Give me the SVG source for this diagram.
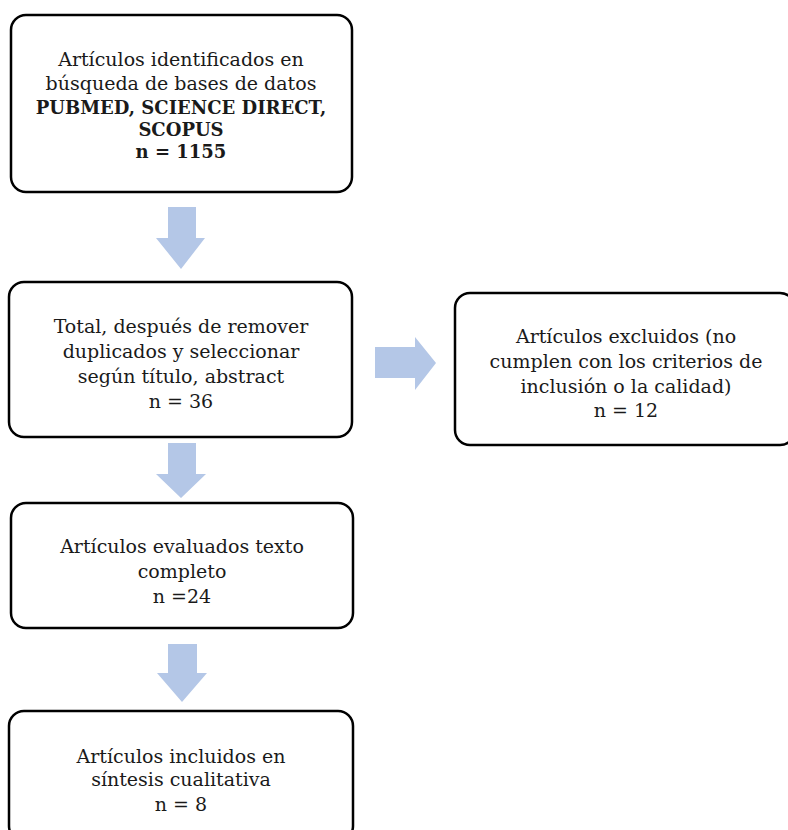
<svg xmlns="http://www.w3.org/2000/svg" width="788" height="830" viewBox="0 0 788 830">
<style>
.box{fill:#ffffff;stroke:#000000;stroke-width:2.5}
.t{font-family:"DejaVu Serif","Liberation Serif",serif;font-size:19px;fill:#1a1a1a;text-anchor:middle}
.b{font-weight:bold;font-size:18px}
.arr{fill:#b4c7e7}
</style>
<rect x="0" y="0" width="788" height="830" fill="#ffffff"/>
<g id="connectors">
<polygon class="arr" points="168,207 196,207 196,238 205,238 181,269 156,238 168,238"/>
<polygon class="arr" points="375,347 415,347 415,337 436,363 415,390 415,378 375,378"/>
<polygon class="arr" points="168,443 196,443 196,474 206,474 181,498 156,474 168,474"/>
<polygon class="arr" points="168,644 197,644 197,673 207,673 182,702 157,673 168,673"/>
</g>
<g id="n1">
<rect class="box" x="11" y="15" width="341" height="177" rx="15"/>
<text class="t" x="181" y="66">Artículos identificados en</text>
<text class="t" x="181" y="90">búsqueda de bases de datos</text>
<text class="t b" x="181" y="114">PUBMED, SCIENCE DIRECT,</text>
<text class="t b" x="181" y="136">SCOPUS</text>
<text class="t b" x="181" y="158">n = 1155</text>
</g>
<g id="n2">
<rect class="box" x="9" y="282" width="343" height="155" rx="15"/>
<text class="t" x="181" y="333">Total, después de remover</text>
<text class="t" x="181" y="358">duplicados y seleccionar</text>
<text class="t" x="181" y="383">según título, abstract</text>
<text class="t" x="181" y="408">n = 36</text>
</g>
<g id="n3">
<rect class="box" x="455" y="293" width="340" height="152" rx="15"/>
<text class="t" x="626" y="343">Artículos excluidos (no</text>
<text class="t" x="626" y="368">cumplen con los criterios de</text>
<text class="t" x="626" y="393">inclusión o la calidad)</text>
<text class="t" x="626" y="417">n = 12</text>
</g>
<g id="n4">
<rect class="box" x="11" y="503" width="342" height="125" rx="15"/>
<text class="t" x="182" y="553">Artículos evaluados texto</text>
<text class="t" x="182" y="578">completo</text>
<text class="t" x="182" y="603">n =24</text>
</g>
<g id="n5">
<rect class="box" x="9" y="711" width="344" height="130" rx="15"/>
<text class="t" x="181" y="763">Artículos incluidos en</text>
<text class="t" x="181" y="786">síntesis cualitativa</text>
<text class="t" x="181" y="811">n = 8</text>
</g>
</svg>
